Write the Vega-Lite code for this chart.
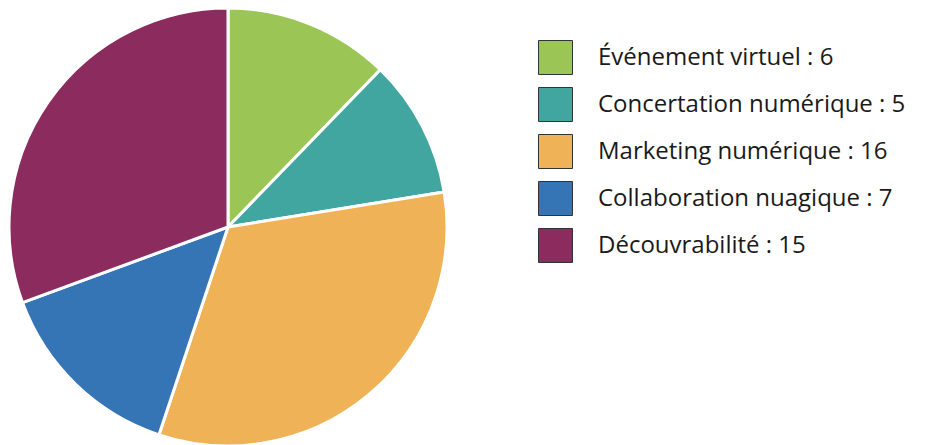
{
  "$schema": "https://vega.github.io/schema/vega-lite/v6.json",
  "width": 456,
  "height": 454,
  "padding": 0,
  "background": "white",
  "data": {
    "values": [
      {"order": 1, "label": "Événement virtuel : 6", "value": 6},
      {"order": 2, "label": "Concertation numérique : 5", "value": 5},
      {"order": 3, "label": "Marketing numérique : 16", "value": 16},
      {"order": 4, "label": "Collaboration nuagique : 7", "value": 7},
      {"order": 5, "label": "Découvrabilité : 15", "value": 15}
    ]
  },
  "mark": {"type": "arc", "outerRadius": 219, "stroke": "white", "strokeWidth": 3},
  "encoding": {
    "theta": {"field": "value", "type": "quantitative", "stack": true},
    "order": {"field": "order", "type": "quantitative"},
    "color": {
      "field": "label",
      "type": "nominal",
      "sort": {"field": "order"},
      "scale": {
        "domain": ["Événement virtuel : 6", "Concertation numérique : 5", "Marketing numérique : 16", "Collaboration nuagique : 7", "Découvrabilité : 15"],
        "range": ["#9BC554", "#40A69F", "#F0B256", "#3574B5", "#8C2B5E"]
      },
      "legend": {
        "title": null,
        "orient": "none",
        "legendX": 538,
        "legendY": 40,
        "padding": 0,
        "symbolType": "square",
        "symbolSize": 1156,
        "symbolStrokeColor": "#333333",
        "symbolStrokeWidth": 1,
        "symbolOpacity": 1,
        "rowPadding": 8,
        "labelOffset": 25,
        "labelFont": "Open Sans",
        "labelFontSize": 24,
        "labelColor": "#1a1a1a",
        "labelLimit": 400
      }
    }
  },
  "config": {"view": {"stroke": null}}
}
